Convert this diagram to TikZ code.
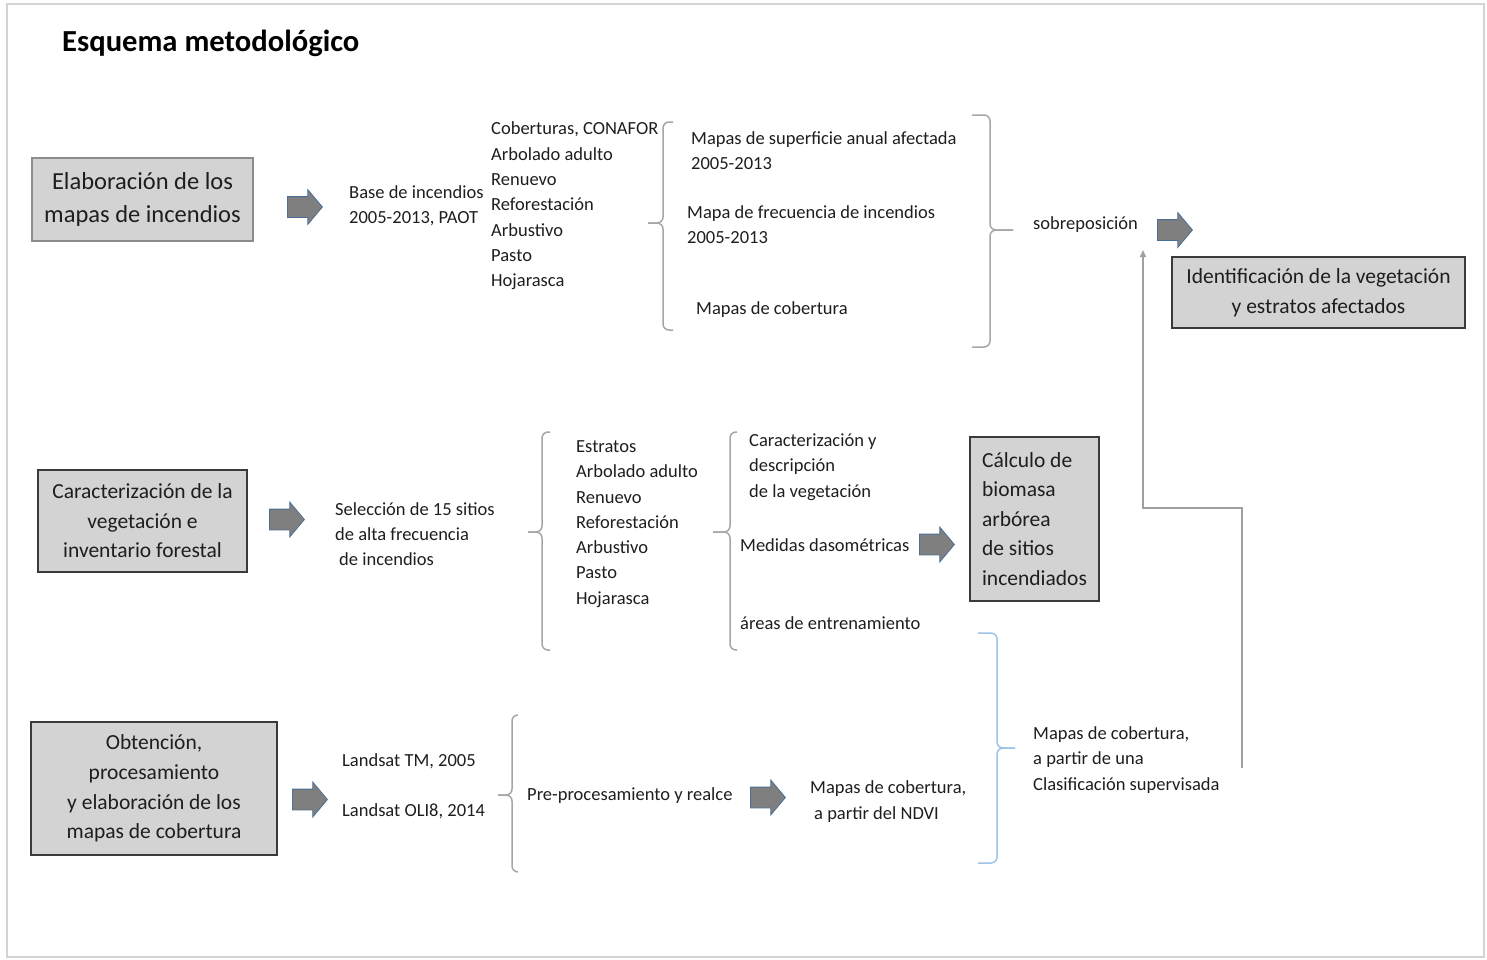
\documentclass[tikz,border=0pt]{standalone}
\usepackage{fontspec}
\setmainfont{Carlito}
\usetikzlibrary{
  arrows.meta,
  shapes.arrows,
  positioning,
  calc
}
\definecolor{esFrame}{HTML}{D4D4D4}
\definecolor{esBox}{HTML}{D3D3D3}
\definecolor{esEdge}{HTML}{3A3A3A}
\definecolor{esArrow}{HTML}{7F7F7F}
\definecolor{esArrowEdge}{HTML}{4A6F96}
\definecolor{esBrace}{HTML}{A6A6A6}
\definecolor{esBlue}{HTML}{9DC3E6}
\definecolor{esLine}{HTML}{A0A0A0}
\definecolor{esText}{HTML}{1E1E1E}
\newcommand{\mtitlefont}{\fontsize{30.6pt}{36pt}\selectfont\bfseries}
\newcommand{\mbigfont}{\fontsize{24.5pt}{33pt}\selectfont}
\newcommand{\mboxfont}{\fontsize{21.5pt}{29.6pt}\selectfont}
\newcommand{\mlabelfont}{\fontsize{18.5pt}{25.3pt}\selectfont}
\tikzset{
  stagebox/.style={
    draw=esEdge, fill=esBox, line width=1.3pt, align=center, inner sep=0pt,
    font=\mboxfont, text=esText
  },
  lbl/.style={anchor=west, inner sep=0pt, align=left, font=\mlabelfont, text=esText},
  blockarrow/.style={
    single arrow, draw=esArrowEdge, fill=esArrow, line width=0.8pt,
    inner xsep=0pt, inner ysep=10pt, minimum height=35pt,
    single arrow head extend=7pt, single arrow tip angle=100, anchor=tail
  },
  curly/.style={draw=esBrace, line width=1.5pt, rounded corners=6pt},
  feedline/.style={draw=esLine, line width=1.6pt, -{Triangle[length=7pt, width=6pt]}}
}

\begin{document}
\begin{tikzpicture}[x=1pt, y=-1pt]
  \useasboundingbox (0,0) rectangle (1487,959);
  \draw[esFrame, line width=2pt] (7,4) rectangle (1484,957);

  \node[anchor=west, inner sep=0pt, font=\mtitlefont, text=black] (title) at (62,43) {Esquema metodológico};

  % fila 1: mapas de incendios
  \node[stagebox, draw=black!45, font=\mbigfont, minimum width=221pt, minimum height=83pt] (elab) at (142.5,199.5) {Elaboración de los\\mapas de incendios};
  \node[blockarrow] (a1) at (287,207) {};
  \node[lbl] (base) at (349,206) {Base de incendios\\2005-2013, PAOT};
  \node[lbl] (cob1) at (491,206) {Coberturas, CONAFOR\\Arbolado adulto\\Renuevo\\Reforestación\\Arbustivo\\Pasto\\Hojarasca};
  \draw[curly] (673,122) -- (663,122) -- (663,223) -- (648,223);
  \draw[curly] (648,223) -- (663,223) -- (663,330) -- (673,330);
  \node[lbl] (sup) at (691,150.5) {Mapas de superficie anual afectada\\2005-2013};
  \node[lbl] (frec) at (687,224.5) {Mapa de frecuencia de incendios\\2005-2013};
  \node[lbl] (mcob) at (696,310) {Mapas de cobertura};
  \draw[curly] (972,115) -- (990,115) -- (990,230) -- (1013,230);
  \draw[curly] (1013,230) -- (990,230) -- (990,347) -- (972,347);
  \node[lbl] (sobre) at (1033,225) {sobreposición};
  \node[blockarrow] (a2) at (1157,230) {};
  \node[stagebox, minimum width=293pt, minimum height=71pt] (ident) at (1318.5,292.5) {Identificación de la vegetación\\y estratos afectados};

  % fila 2: inventario forestal
  \node[stagebox, minimum width=209pt, minimum height=102pt] (carac) at (142.5,521) {Caracterización de la\\vegetación e\\inventario forestal};
  \node[blockarrow] (a3) at (269,519.5) {};
  \node[lbl] (sel) at (335,534) {Selección de 15 sitios\\de alta frecuencia\\\hspace{4pt}de incendios};
  \draw[curly] (550,432) -- (542,432) -- (542,532) -- (528,532);
  \draw[curly] (528,532) -- (542,532) -- (542,650) -- (550,650);
  \node[lbl] (estr) at (576,524) {Estratos\\Arbolado adulto\\Renuevo\\Reforestación\\Arbustivo\\Pasto\\Hojarasca};
  \draw[curly] (737,432) -- (730,432) -- (730,532) -- (713,532);
  \draw[curly] (713,532) -- (730,532) -- (730,650) -- (737,650);
  \node[lbl] (desc) at (749,467) {Caracterización y\\descripción\\de la vegetación};
  \node[lbl] (daso) at (740,545) {Medidas dasométricas};
  \node[blockarrow] (a4) at (919,544.5) {};
  \node[lbl] (entr) at (740,623) {áreas de entrenamiento};
  \node[stagebox, align=left, minimum width=129pt, minimum height=164pt] (bio) at (1034.5,519) {Cálculo de\\biomasa\\arbórea\\de sitios\\incendiados};

  % fila 3: mapas de cobertura
  \node[stagebox, minimum width=246pt, minimum height=133pt] (obt) at (154,788.5) {Obtención,\\procesamiento\\y elaboración de los\\mapas de cobertura};
  \node[blockarrow] (a5) at (292,799.5) {};
  \node[lbl] (tm) at (342,761) {Landsat TM, 2005};
  \node[lbl] (oli) at (342,811) {Landsat OLI8, 2014};
  \draw[curly] (518,715) -- (512,715) -- (512,795) -- (498,795);
  \draw[curly] (498,795) -- (512,795) -- (512,872) -- (518,872);
  \node[lbl] (pre) at (527,796) {Pre-procesamiento y realce};
  \node[blockarrow] (a6) at (750,797.5) {};
  \node[lbl] (ndvi) at (810,801.5) {Mapas de cobertura,\\\hspace{4pt}a partir del NDVI};
  \draw[curly, draw=esBlue] (978,633) -- (997,633) -- (997,748) -- (1015,748);
  \draw[curly, draw=esBlue] (1015,748) -- (997,748) -- (997,863) -- (978,863);
  \node[lbl] (clas) at (1033,760) {Mapas de cobertura,\\a partir de una\\Clasificación supervisada};

  % retorno hacia la sobreposicion
  \coordinate (feed) at (1242,768);
  \coordinate (rise) at (1143,250);
  \draw[feedline] (feed) |- ($(rise)+(0,258)$) -- (rise);
\end{tikzpicture}
\end{document}
